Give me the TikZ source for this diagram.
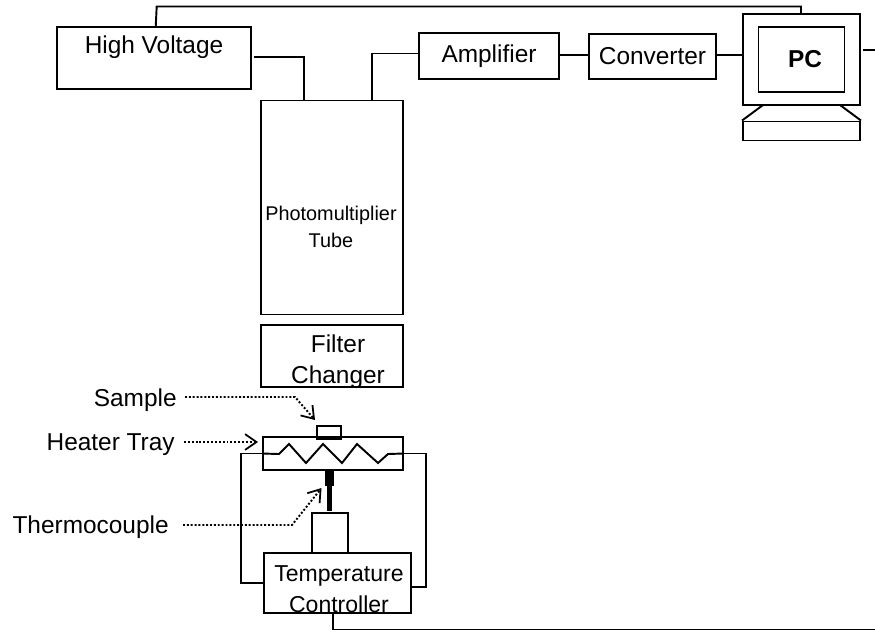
\documentclass[tikz,border=0pt]{standalone}
\usepackage{fontspec}
\setmainfont{Liberation Sans}
\usetikzlibrary{arrows.meta}

\tikzset{
 unitbox/.style={draw, line width=1.1pt, inner sep=0pt, align=center, font=\fontsize{13.9}{17.5}\selectfont},
 wire/.style={line width=1.1pt},
 pointer/.style={line width=1.1pt, dash pattern=on 1.1pt off 1.1pt, -{Straight Barb[length=6.5pt,width=9pt,line width=1pt]}},
 tag/.style={inner sep=0pt, font=\fontsize{13.9}{17}\selectfont},
 boxtext/.style={inner sep=0pt, align=center}
}

\begin{document}
\begin{tikzpicture}[x=.02cm, y=-.02cm]
\useasboundingbox (0,0) rectangle (875,633);

 % top row
 \node[unitbox, minimum width=194*.02cm, minimum height=62*.02cm] (voltage) at (154,58) {High Voltage\\[-2.8pt]~};
 \node[unitbox, minimum width=140*.02cm, minimum height=46*.02cm] (amplifier) at (489,56) {Amplifier};
 \node[unitbox, minimum width=127*.02cm, minimum height=45*.02cm] (converter) at (652.5,56.5) {Converter};

 % computer
 \node[unitbox, minimum width=117*.02cm, minimum height=91*.02cm] (monitor) at (801.5,59.5) {};
 \node[unitbox, minimum width=86*.02cm, minimum height=65*.02cm, font=\fontsize{13.9}{17}\selectfont\bfseries] (screen) at (801.5,59.5) {\hspace{4pt}PC};
 \node[unitbox, minimum width=117*.02cm, minimum height=19*.02cm] (keyboard) at (801.5,131) {};
 \coordinate (standleft) at (763,105);
 \coordinate (standright) at (840,105);
 \draw[wire] (keyboard.north west) -- (standleft);
 \draw[wire] (keyboard.north east) -- (standright);

 % tube and filter
 \node[unitbox, minimum width=142.5*.02cm, minimum height=214*.02cm] (tube) at (332,207.5) {};
 \node[boxtext, font=\fontsize{11.3}{15.3}\selectfont] (tubetext) at (331,227) {Photomultiplier\\Tube};
 \node[unitbox, minimum width=142.5*.02cm, minimum height=62*.02cm] (filter) at (332,356) {};
 \node[boxtext, font=\fontsize{13.9}{18}\selectfont] (filtertext) at (338,361.5) {Filter\\Changer};

 % heater
 \node[unitbox, minimum width=24*.02cm, minimum height=13*.02cm] (sample) at (329,432.5) {};
 \node[unitbox, minimum width=140*.02cm, minimum height=33*.02cm] (heater) at (333,453.5) {};
 \node[unitbox, minimum width=36*.02cm, minimum height=40*.02cm] (probe) at (330,533) {};
 \node[unitbox, minimum width=147*.02cm, minimum height=60*.02cm] (controller) at (337.5,583) {};
 \node[boxtext, font=\fontsize{13.1}{17.5}\selectfont] (controllertext) at (339,589) {Temperature\\Controller};

 \coordinate (coilleft) at (279,454);
 \coordinate (coilright) at (388,454);
 \draw[wire] (heater.west) -- (coilleft) -- (289,444) -- (306,463) -- (323,444) -- (342,463) -- (357,444) -- (378,463) -- (coilright) -- (heater.east);

 % thermocouple
 \coordinate (barjoin) at (329.5,486);
 \coordinate (barend) at (329.5,511);
 \draw[line width=5.6pt] (heater.south -| barjoin) -- (barjoin);
 \draw[line width=2.8pt] (barjoin) -- (barend);

 % wiring
 \coordinate (hvstart) at (254,57);
 \coordinate (tubein) at (304,100);
 \coordinate (tubeout) at (372,100);
 \coordinate (ampin) at (419,53.5);
 \coordinate (ampout) at (560,55);
 \coordinate (convin) at (589,55);
 \coordinate (convout) at (717,55);
 \coordinate (hvtop) at (155.7,27);
 \coordinate (pctop) at (801,14);
 \coordinate (pcout) at (863,50);
 \coordinate (pcend) at (875,50);
 \coordinate (ctrlout) at (333,613);
 \coordinate (ctrlend) at (875,629.5);
 \draw[wire] (hvtop) -- (156.7,6.5) -- (801,6.5) -- (pctop);
 \draw[wire] (hvstart) -| (tubein);
 \draw[wire] (tubeout) |- (ampin);
 \draw[wire] (ampout) -- (convin);
 \draw[wire] (convout) -- (monitor.west |- convout);
 \draw[wire] (pcout) -- (pcend);
 \draw[wire] (ctrlout) |- (ctrlend);
 \draw[wire] (heater.west) -- (241,453.5) |- (controller.west);
 \draw[wire] (heater.east) -- (426,453.5) |- (controller.east |- 0,587);

 % labels
 \node[tag, anchor=east] (samplelabel) at (177,400) {Sample};
 \node[tag, anchor=east] (heaterlabel) at (175,444.5) {Heater Tray};
 \node[tag, anchor=east] (couplelabel) at (169,527) {Thermocouple};
 \coordinate (samplehead) at (315,420);
 \coordinate (heaterhead) at (258,442);
 \coordinate (couplehead) at (321.5,488);
 \draw[pointer] (185,397) -- (295,397) -- (samplehead);
 \draw[pointer] (184,442) -- (heaterhead);
 \draw[pointer] (183,525) -- (292,525) -- (couplehead);

\end{tikzpicture}
\end{document}
